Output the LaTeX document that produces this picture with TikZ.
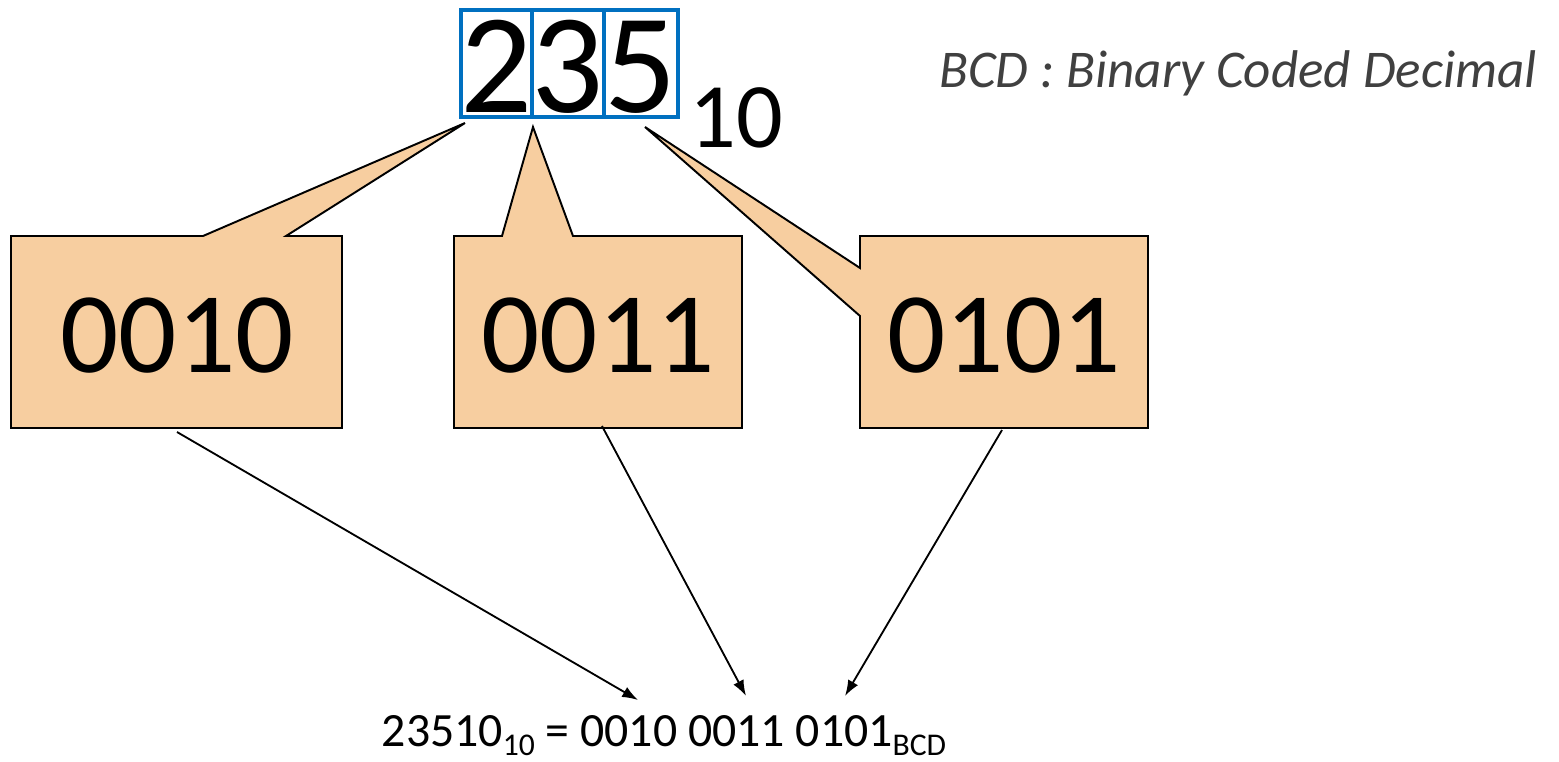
\documentclass[tikz,border=0pt]{standalone}
\usepackage{fontspec}
\setmainfont{Carlito}
\usetikzlibrary{arrows.meta}
\definecolor{calfill}{RGB}{247,206,160}
\definecolor{digblue}{RGB}{0,112,192}
\definecolor{titlegray}{RGB}{64,64,64}
\tikzset{
  callout/.style={draw=black, fill=calfill, line width=1.1pt, line join=miter},
  digbox/.style={draw=digblue, line width=1.8pt},
  bigdigit/.style={anchor=base, inner sep=0pt, font=\fontsize{81}{81}\selectfont},
  boxtext/.style={anchor=base, inner sep=0pt, font=\fontsize{65.5}{65.5}\selectfont},
  conn/.style={draw=black, line width=1.05pt, -{Latex[length=9pt,width=6.5pt]}},
}
\newcommand{\lowsub}[1]{\raisebox{-0.2em}{\fontsize{18}{18}\selectfont #1}}
\begin{document}
\begin{tikzpicture}[x=0.02cm, y=-0.02cm]
\useasboundingbox (0,0) rectangle (1559,761);
% digit boxes
\draw[digbox] (461,10) rectangle (532,117);
\draw[digbox] (532,10) rectangle (604,117);
\draw[digbox] (604,10) rectangle (678,117);
\node[bigdigit] (d2) at (497,112) {2};
\node[bigdigit] (d3) at (568,112) {3};
\node[bigdigit] (d5) at (641,112) {5};
\node[anchor=base west, inner sep=0pt, font=\fontsize{52.5}{52.5}\selectfont] (ten) at (689,147) {10};
% callouts
\path[callout] (11,236) -- (203,236) -- (465,123) -- (286,236) -- (342,236) -- (342,428) -- (11,428) -- cycle;
\path[callout] (454,236) -- (502,236) -- (533,127) -- (573,236) -- (742,236) -- (742,428) -- (454,428) -- cycle;
\path[callout] (860,236) -- (1148,236) -- (1148,428) -- (860,428) -- (860,316) -- (645,127) -- (860,268) -- cycle;
\node[boxtext] (b1) at (177,372) {0010};
\node[boxtext] (b2) at (598,372) {0011};
\node[boxtext] (b3) at (1004,372) {0101};
% title
\node[anchor=base, inner sep=0pt, text=titlegray, font=\fontsize{30.2}{30.2}\selectfont\itshape] (title) at (1238,87) {BCD : Binary Coded Decimal};
% result
\node[anchor=base, inner sep=0pt, font=\fontsize{27.2}{27.2}\selectfont] (res) at (664,746) {23510\lowsub{10} = 0010 0011 0101\lowsub{BCD}};
% connectors
\coordinate (s1) at (177,432);
\coordinate (s2) at (602,426);
\coordinate (s3) at (1002,430);
\coordinate (e1) at (638,700);
\coordinate (e2) at (746,696);
\coordinate (e3) at (845,696);
\draw[conn] (s1) -- (e1);
\draw[conn] (s2) -- (e2);
\draw[conn] (s3) -- (e3);
\end{tikzpicture}
\end{document}
